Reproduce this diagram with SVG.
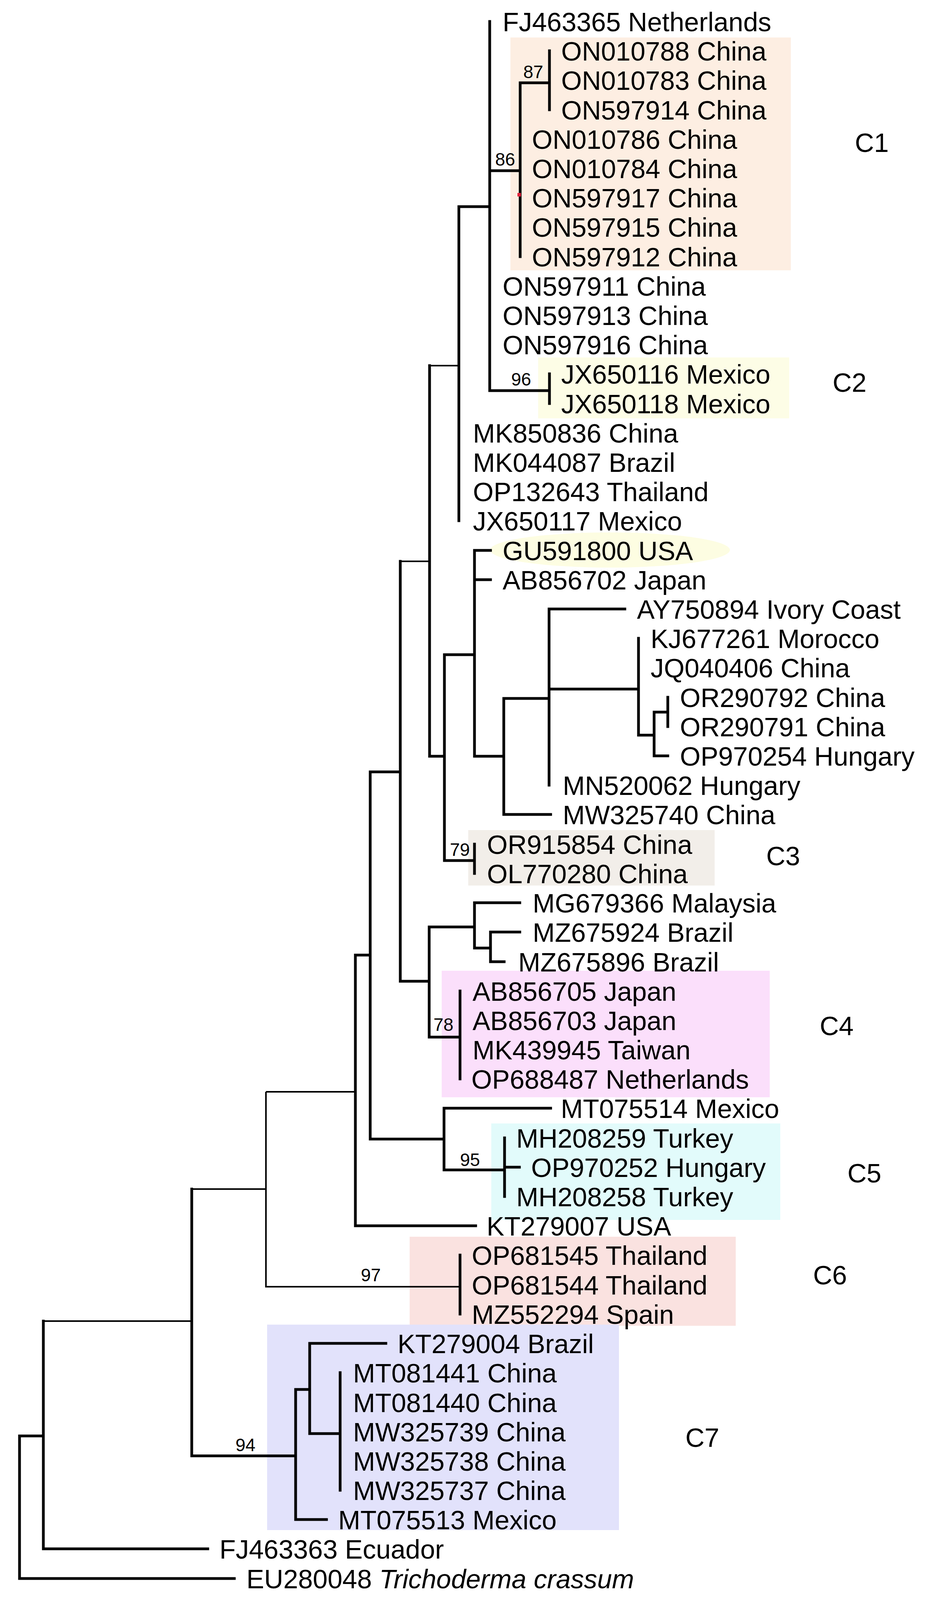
<svg xmlns="http://www.w3.org/2000/svg" width="2384" height="4190" viewBox="0 0 2384 4190">
<style>
.t{font-family:"Liberation Sans",Arial,sans-serif;font-size:68px;fill:#000}
.b{font-family:"Liberation Sans",Arial,sans-serif;font-size:46px;fill:#000}
.c{font-family:"Liberation Sans",Arial,sans-serif;font-size:68px;fill:#000}
.e{fill:none;stroke:#000;stroke-width:7;stroke-linecap:square}
.th{fill:none;stroke:#000;stroke-width:4}
</style>
<rect width="2384" height="4190" fill="#fff"/>
<g id="highlights">
<rect x="1307" y="96" width="718" height="596" fill="#fdeee2"/>
<rect x="1378" y="915" width="643" height="156" fill="#fdfde6"/>
<ellipse cx="1562" cy="1408" rx="307" ry="45" fill="#fdfde2"/>
<rect x="1199" y="2125" width="631" height="142" fill="#f2eee9"/>
<rect x="1131" y="2485" width="840" height="324" fill="#fbdffb"/>
<rect x="1258" y="2876" width="740" height="247" fill="#e2fbfb"/>
<rect x="1049" y="3166" width="835" height="228" fill="#fae2e0"/>
<rect x="684" y="3391" width="901" height="526" fill="#e2e2fb"/>
</g>
<g id="connectors">
<path class="e" d="M50,3676V4041H600M50,3676H111M111,3382V3965H532M491,3044V3727H757M910,2445V3138H1218M910,2445H948M948,1976V2916H1137M948,1976H1025M1137,2837V2995H1292M1137,2837H1410M1292,2913V3063M1292,2988H1330M1025,1437V2512H1099M1099,2373V2655H1178M1099,2373H1215M1178,2537V2762M1215,2311V2427H1256M1215,2311H1331M1256,2386V2462H1291M1256,2386H1331M1100,936V1936H1138M1138,1676V2203H1215M1138,1676H1215M1215,2161V2236M1215,1409V1936H1290M1215,1409H1256M1215,1484H1256M1290,1788V2085H1410M1290,1788H1406M1406,1559V2010M1406,1559H1600M1406,1764H1635M1635,1634V1882H1675M1675,1823V1935H1710M1675,1823H1710M1710,1785V1860M1175,529V1333M1175,529H1254M1254,55V1000H1407M1254,437H1332M1407,957V1033M1332,212V657M1332,212H1407M1407,130V281M1178,3213V3364M757,3557V3890H836M757,3557H793M793,3439V3670H871M793,3439H988M871,3514V3815M46,4137H91"/>
<path class="th" d="M111,3382H491M491,3044H681M681,2795V3294H1178M681,2795H910M1025,1437H1100M1100,936H1175"/>
<rect x="1325" y="494" width="9" height="9" fill="#e0203a"/>
</g>
<g id="bootstrap">
<text class="b" x="1340" y="200">87</text>
<text class="b" x="1268" y="424">86</text>
<text class="b" x="1309" y="987">96</text>
<text class="b" x="1152" y="2191">79</text>
<text class="b" x="1110" y="2639">78</text>
<text class="b" x="1178" y="2985">95</text>
<text class="b" x="924" y="3280">97</text>
<text class="b" x="603" y="3715">94</text>
</g>
<g id="tips">
<text class="t" x="1287" y="80">FJ463365 Netherlands</text>
<text class="t" x="1437" y="155">ON010788 China</text>
<text class="t" x="1437" y="230">ON010783 China</text>
<text class="t" x="1437" y="306">ON597914 China</text>
<text class="t" x="1362" y="381">ON010786 China</text>
<text class="t" x="1362" y="456">ON010784 China</text>
<text class="t" x="1362" y="531">ON597917 China</text>
<text class="t" x="1362" y="606">ON597915 China</text>
<text class="t" x="1362" y="682">ON597912 China</text>
<text class="t" x="1287" y="757">ON597911 China</text>
<text class="t" x="1287" y="832">ON597913 China</text>
<text class="t" x="1287" y="907">ON597916 China</text>
<text class="t" x="1437" y="982">JX650116 Mexico</text>
<text class="t" x="1437" y="1058">JX650118 Mexico</text>
<text class="t" x="1211" y="1133">MK850836 China</text>
<text class="t" x="1211" y="1208">MK044087 Brazil</text>
<text class="t" x="1211" y="1283">OP132643 Thailand</text>
<text class="t" x="1211" y="1358">JX650117 Mexico</text>
<text class="t" x="1287" y="1434">GU591800 USA</text>
<text class="t" x="1287" y="1509">AB856702 Japan</text>
<text class="t" x="1631" y="1584">AY750894 Ivory Coast</text>
<text class="t" x="1666" y="1659">KJ677261 Morocco</text>
<text class="t" x="1666" y="1734">JQ040406 China</text>
<text class="t" x="1741" y="1810">OR290792 China</text>
<text class="t" x="1741" y="1885">OR290791 China</text>
<text class="t" x="1741" y="1960">OP970254 Hungary</text>
<text class="t" x="1441" y="2035">MN520062 Hungary</text>
<text class="t" x="1441" y="2110">MW325740 China</text>
<text class="t" x="1247" y="2186">OR915854 China</text>
<text class="t" x="1247" y="2261">OL770280 China</text>
<text class="t" x="1364" y="2336">MG679366 Malaysia</text>
<text class="t" x="1364" y="2411">MZ675924 Brazil</text>
<text class="t" x="1327" y="2487">MZ675896 Brazil</text>
<text class="t" x="1210" y="2562">AB856705 Japan</text>
<text class="t" x="1210" y="2637">AB856703 Japan</text>
<text class="t" x="1210" y="2712">MK439945 Taiwan</text>
<text class="t" x="1207" y="2787">OP688487 Netherlands</text>
<text class="t" x="1436" y="2862">MT075514 Mexico</text>
<text class="t" x="1322" y="2938">MH208259 Turkey</text>
<text class="t" x="1360" y="3013">OP970252 Hungary</text>
<text class="t" x="1322" y="3088">MH208258 Turkey</text>
<text class="t" x="1246" y="3163">KT279007 USA</text>
<text class="t" x="1208" y="3238">OP681545 Thailand</text>
<text class="t" x="1208" y="3314">OP681544 Thailand</text>
<text class="t" x="1208" y="3389">MZ552294 Spain</text>
<text class="t" x="1018" y="3464">KT279004 Brazil</text>
<text class="t" x="904" y="3539">MT081441 China</text>
<text class="t" x="904" y="3615">MT081440 China</text>
<text class="t" x="904" y="3690">MW325739 China</text>
<text class="t" x="904" y="3765">MW325738 China</text>
<text class="t" x="904" y="3840">MW325737 China</text>
<text class="t" x="866" y="3915">MT075513 Mexico</text>
<text class="t" x="562" y="3990">FJ463363 Ecuador</text>
<text class="t" x="631" y="4066">EU280048 <tspan font-style="italic">Trichoderma crassum</tspan></text>
</g>
<g id="clades">
<text class="c" x="2189" y="389">C1</text>
<text class="c" x="2132" y="1003">C2</text>
<text class="c" x="1962" y="2215">C3</text>
<text class="c" x="2099" y="2650">C4</text>
<text class="c" x="2170" y="3027">C5</text>
<text class="c" x="2082" y="3288">C6</text>
<text class="c" x="1755" y="3704">C7</text>
</g>
<text id="scale" x="122" y="4150" font-family="Liberation Sans, Arial, sans-serif" font-size="34">1 change</text>
</svg>
